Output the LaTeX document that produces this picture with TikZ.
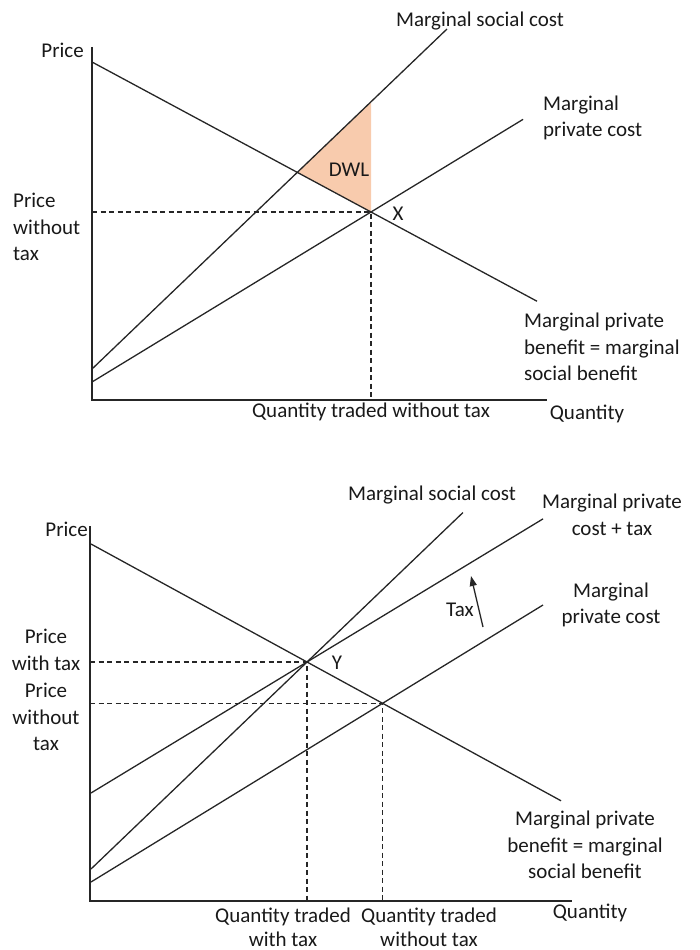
\documentclass[tikz,border=0pt]{standalone}
\usepackage{fontspec}
\setmainfont{Carlito}
\usetikzlibrary{arrows.meta,calc}
\definecolor{dwlfill}{HTML}{F8CBAD}
\begin{document}
\begin{tikzpicture}[x=1pt,y=-1pt,
  curve/.style={line width=1.3pt, draw=black!85},
  axis/.style={line width=1.7pt, draw=black!85},
  guide/.style={line width=1.1pt, dash pattern=on 5pt off 3.5pt, draw=black!85},
  lbl/.style={inner sep=0pt, font=\fontsize{21}{26.5}\selectfont, text=black!90},
  dwl/.style={fill=dwlfill}]
\useasboundingbox (0,0) rectangle (700,950);

% ---------------- top panel ----------------
\coordinate (O1) at (92,400);
\coordinate (Ytop1) at (92,47);
\coordinate (Xend1) at (547,400);
\coordinate (D1s) at (92,62);
\coordinate (X1) at (371,212);
\coordinate (D1e) at ($(D1s)!1.595!(X1)$);
\coordinate (S1s) at (92,369);
\coordinate (S1e) at (447,29);
\coordinate (P1s) at (92,382);
\coordinate (P1e) at ($(P1s)!1.545!(X1)$);
\coordinate (X1top) at (X1 |- S1e);
\coordinate (I1) at (intersection of D1s--X1 and S1s--S1e);
\coordinate (T1) at (intersection of X1--X1top and S1s--S1e);
\coordinate (Q1) at (X1 |- O1);
\coordinate (R1) at (X1 -| O1);

\fill[dwl] (I1) -- (T1) -- (X1) -- cycle;
\draw[guide] (R1) -- (X1) -- (Q1);
\draw[curve] (D1s) -- (D1e);
\draw[curve] (S1s) -- (S1e);
\draw[curve] (P1s) -- (P1e);
\draw[axis] (Ytop1) -- (O1) -- (Xend1);

\node[lbl, anchor=east] (price1) at (84,50) {Price};
\node[lbl, anchor=west, align=left] (pwt1) at (13,227) {Price\\without\\tax};
\node[lbl] (msc1) at (480,21) {Marginal social cost};
\node[lbl, anchor=west, align=left] (mpc1) at (543,118) {Marginal\\private cost};
\node[lbl] (dwllbl) at (349,170) {DWL};
\node[lbl] (xlbl) at (398,214) {X};
\node[lbl, anchor=west, align=left] (mpb1) at (524,347) {Marginal private\\benefit = marginal\\social benefit};
\node[lbl] (qt1) at (371,412) {Quantity traded without tax};
\node[lbl] (qty1) at (587,414) {Quantity};

% ---------------- bottom panel ----------------
\coordinate (O2) at (90,901);
\coordinate (Ytop2) at (90,526);
\coordinate (Xend2) at (572,901);
\coordinate (D2s) at (91,544);
\coordinate (Y2) at (307,662);
\coordinate (D2e) at ($(D2s)!2.176!(Y2)$);
\coordinate (S2s) at (91,869);
\coordinate (S2e) at ($(S2s)!1.722!(Y2)$);
\coordinate (T2s) at (91,793);
\coordinate (T2e) at ($(T2s)!2.093!(Y2)$);
\coordinate (P2s) at (91,882);
\coordinate (P2e) at (543,605);
\coordinate (E2) at (intersection of P2s--P2e and D2s--D2e);
\coordinate (QY2) at (Y2 |- O2);
\coordinate (RY2) at (Y2 -| O2);
\coordinate (QE2) at (E2 |- O2);
\coordinate (RE2) at (E2 -| O2);
\coordinate (taxa) at (483,627);
\coordinate (taxb) at (471,576);

\draw[guide] (RY2) -- (Y2) -- (QY2);
\draw[guide] (RE2) -- (E2) -- (QE2);
\draw[curve] (D2s) -- (D2e);
\draw[curve] (S2s) -- (S2e);
\draw[curve] (T2s) -- (T2e);
\draw[curve] (P2s) -- (P2e);
\draw[line width=1.3pt, draw=black!85, -{Triangle[length=10pt,width=7pt]}] (taxa) -- (taxb);
\draw[axis] (Ytop2) -- (O2) -- (Xend2);

\node[lbl, anchor=east] (price2) at (88,529) {Price};
\node[lbl, align=center] (pwtax2) at (46,650) {Price\\with tax};
\node[lbl, align=center] (pwt2) at (46,717) {Price\\without\\tax};
\node[lbl] (msc2) at (432,495) {Marginal social cost};
\node[lbl, align=center] (mpct2) at (612,515) {Marginal private\\cost + tax};
\node[lbl, align=center] (mpc2) at (611,605) {Marginal\\private cost};
\node[lbl] (taxlbl) at (460,610) {Tax};
\node[lbl] (ylbl) at (337,663) {Y};
\node[lbl, align=center] (mpb2) at (585,845) {Marginal private\\benefit = marginal\\social benefit};
\node[lbl, align=center, font=\fontsize{21}{24}\selectfont] (qtw2) at (283,927) {Quantity traded\\with tax};
\node[lbl, align=center, font=\fontsize{21}{24}\selectfont] (qtwo2) at (429,927) {Quantity traded\\without tax};
\node[lbl] (qty2) at (590,913) {Quantity};
\end{tikzpicture}
\end{document}
